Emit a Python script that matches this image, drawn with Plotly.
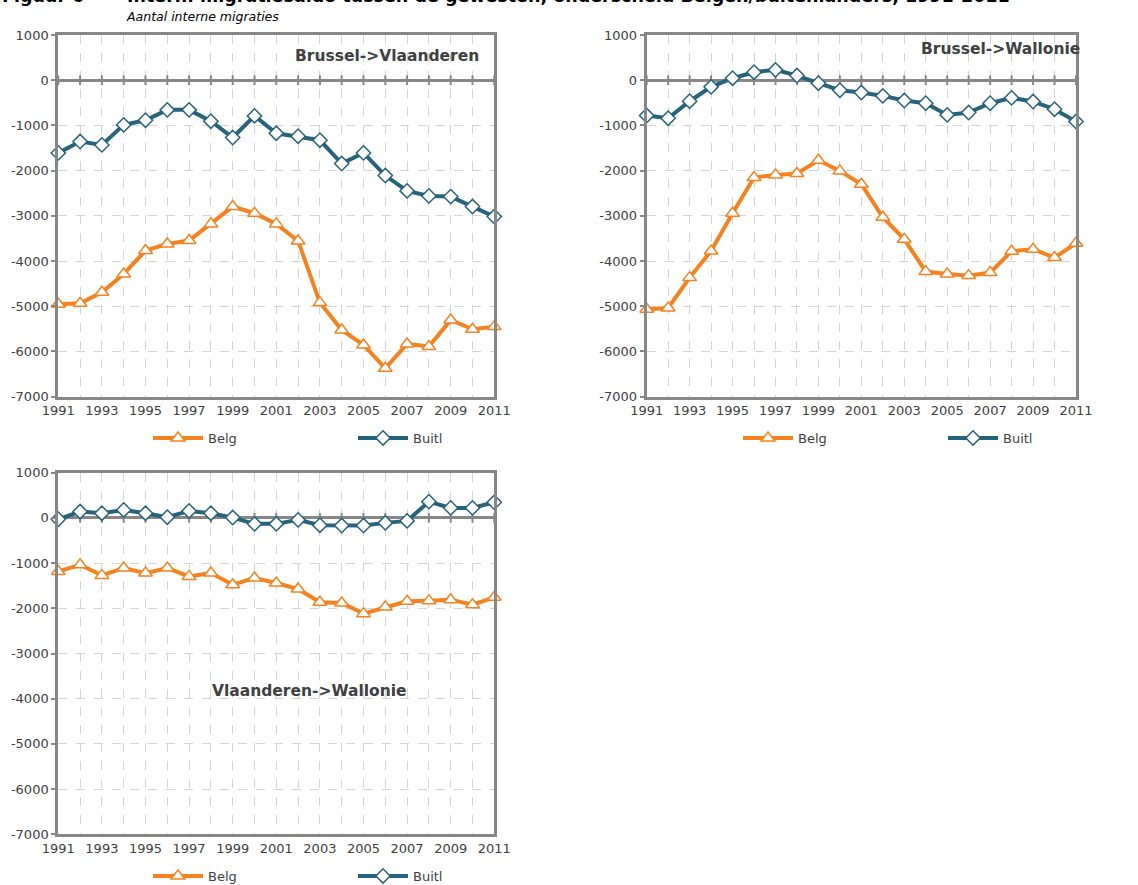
import plotly.graph_objects as go

years = list(range(1991, 2012))

bv_belg = [-4956, -4934, -4690, -4285, -3768, -3621, -3547, -3178, -2795, -2942, -3178,
           -3555, -4919, -5524, -5855, -6372, -5833, -5892, -5302, -5509, -5450]
bv_buitl = [-1608, -1357, -1431, -988, -885, -656, -656, -907, -1268, -789, -1173,
            -1239, -1327, -1844, -1608, -2109, -2448, -2559, -2574, -2795, -3016]

bw_belg = [-5066, -5037, -4366, -3776, -2942, -2153, -2094, -2065, -1770, -2006, -2301,
           -3031, -3518, -4233, -4285, -4322, -4255, -3783, -3739, -3923, -3606]
bw_buitl = [-782, -841, -465, -147, 44, 177, 229, 103, -66, -221, -273,
            -347, -450, -509, -767, -715, -509, -391, -472, -642, -914]

vw_belg = [-1184, -1037, -1272, -1110, -1221, -1110, -1294, -1221, -1478, -1331, -1441,
           -1574, -1868, -1882, -2118, -1971, -1846, -1831, -1809, -1919, -1757]
vw_buitl = [-29, 140, 103, 176, 103, 15, 154, 103, 7, -132, -132,
            -44, -162, -169, -169, -110, -66, 360, 221, 221, 346]

panel_titles = ["Brussel->Vlaanderen", "Brussel->Wallonie", "Vlaanderen->Wallonie"]
series_names = ["Belg", "Buitl"]
y_ticks = [1000, 0, -1000, -2000, -3000, -4000, -5000, -6000, -7000]
y_ticktext = ["1000", "0", "-1000", "-2000", "-3000", "-4000", "-5000", "-6000", "-7000"]
x_ticks = list(range(1991, 2012, 2))

title_main = "Intern. migratiesaldo tussen de gewesten, onderscheid Belgen/buitenlanders, 1991-2011"
title_num = "Figuur 6"
subtitle = "Aantal interne migraties"

ORANGE = "#F5821F"
TEAL = "#26637C"
FRAME = "#878787"
GRID = "#D4D4D4"
TXT = "#404040"
FONT = "DejaVu Sans"

W, H = 1138, 885

def px(x):
    return x / W

def py(y):
    return 1 - y / H

panels = [
    dict(data=(bv_belg, bv_buitl), x0=58.3, x1=494.3, y0=35, y1=396.7, leg="legend"),
    dict(data=(bw_belg, bw_buitl), x0=646.7, x1=1076, y0=35, y1=396.7, leg="legend2"),
    dict(data=(vw_belg, vw_buitl), x0=58.3, x1=494.3, y0=472.7, y1=834.3, leg="legend3"),
]

fig = go.Figure()
layout = {}
for i, p in enumerate(panels, start=1):
    sx = "" if i == 1 else str(i)
    belg, buitl = p["data"]
    # small tick marks on the zero axis line
    fig.add_trace(go.Scatter(
        x=years, y=[0] * len(years), mode="markers", showlegend=False, hoverinfo="skip",
        xaxis="x" + sx, yaxis="y" + sx, cliponaxis=False,
        marker=dict(symbol="line-ns", size=7, line=dict(color=FRAME, width=2)),
    ))
    fig.add_trace(go.Scatter(
        x=years, y=belg, name=series_names[0], mode="lines+markers",
        xaxis="x" + sx, yaxis="y" + sx, legend=p["leg"], cliponaxis=False,
        line=dict(color=ORANGE, width=4),
        marker=dict(symbol="triangle-up", size=12, color="white",
                    line=dict(color=ORANGE, width=1.5)),
    ))
    fig.add_trace(go.Scatter(
        x=years, y=buitl, name=series_names[1], mode="lines+markers",
        xaxis="x" + sx, yaxis="y" + sx, legend=p["leg"], cliponaxis=False,
        line=dict(color=TEAL, width=4),
        marker=dict(symbol="diamond", size=11, color="white",
                    line=dict(color=TEAL, width=1.5)),
    ))
    layout["xaxis" + sx] = dict(
        domain=[px(p["x0"]), px(p["x1"])], anchor="y" + sx,
        range=[years[0], years[-1]], tickvals=x_ticks, ticks="",
        showgrid=True, gridcolor=GRID, griddash="dash", gridwidth=1,
        minor=dict(dtick=1, tick0=1991, showgrid=True, gridcolor=GRID, griddash="dash", gridwidth=1),
        showline=True, linecolor=FRAME, linewidth=3, mirror=True,
        zeroline=False, tickfont=dict(family=FONT, size=13, color=TXT),
        automargin=False, fixedrange=True,
    )
    layout["yaxis" + sx] = dict(
        domain=[py(p["y1"]), py(p["y0"])], anchor="x" + sx,
        range=[-7000, 1000], tickvals=y_ticks, ticktext=y_ticktext,
        ticks="outside", ticklen=4, tickcolor=FRAME, tickwidth=2,
        showgrid=True, gridcolor=GRID, griddash="dash", gridwidth=1,
        zeroline=True, zerolinecolor=FRAME, zerolinewidth=3,
        showline=True, linecolor=FRAME, linewidth=3, mirror=True,
        tickfont=dict(family=FONT, size=13, color=TXT),
        automargin=False, fixedrange=True,
    )

legend_common = dict(orientation="h", font=dict(family=FONT, size=13, color=TXT),
                     bgcolor="rgba(0,0,0,0)", xanchor="left", yanchor="middle",
                     entrywidth=140, entrywidthmode="pixels", itemwidth=50,
                     tracegroupgap=0)
layout["legend"] = dict(legend_common, x=px(148), y=py(438))
layout["legend2"] = dict(legend_common, x=px(738), y=py(438))
layout["legend3"] = dict(legend_common, x=px(148), y=py(876))

annotations = [
    dict(text="<b>" + panel_titles[0] + "</b>", x=px(387), y=py(56)),
    dict(text="<b>" + panel_titles[1] + "</b>", x=px(1000), y=py(49)),
    dict(text="<b>" + panel_titles[2] + "</b>", x=px(309), y=py(691)),
]
for a in annotations:
    a.update(xref="paper", yref="paper", showarrow=False, xanchor="center", yanchor="middle",
             font=dict(family=FONT, size=15.5, color=TXT))
annotations += [
    dict(text="<b>" + title_num + "</b>", x=0, y=py(-4), xanchor="left", yanchor="middle",
         xref="paper", yref="paper", showarrow=False,
         font=dict(family=FONT, size=17.5, color="black")),
    dict(text="<b>" + title_main + "</b>", x=px(125), y=py(-4), xanchor="left", yanchor="middle",
         xref="paper", yref="paper", showarrow=False,
         font=dict(family=FONT, size=17.5, color="black")),
    dict(text="<i>" + subtitle + "</i>", x=px(124), y=py(17), xanchor="left", yanchor="middle",
         xref="paper", yref="paper", showarrow=False,
         font=dict(family=FONT, size=12.5, color="black")),
]

fig.update_layout(
    width=W, height=H, margin=dict(l=0, r=0, t=0, b=0, autoexpand=False),
    paper_bgcolor="white", plot_bgcolor="white", hovermode=False,
    annotations=annotations, **layout,
)

fig.write_html(
    "out.html",
    config={"displayModeBar": False},
    post_script="document.body.style.margin='0';document.body.style.overflow='hidden';",
)
